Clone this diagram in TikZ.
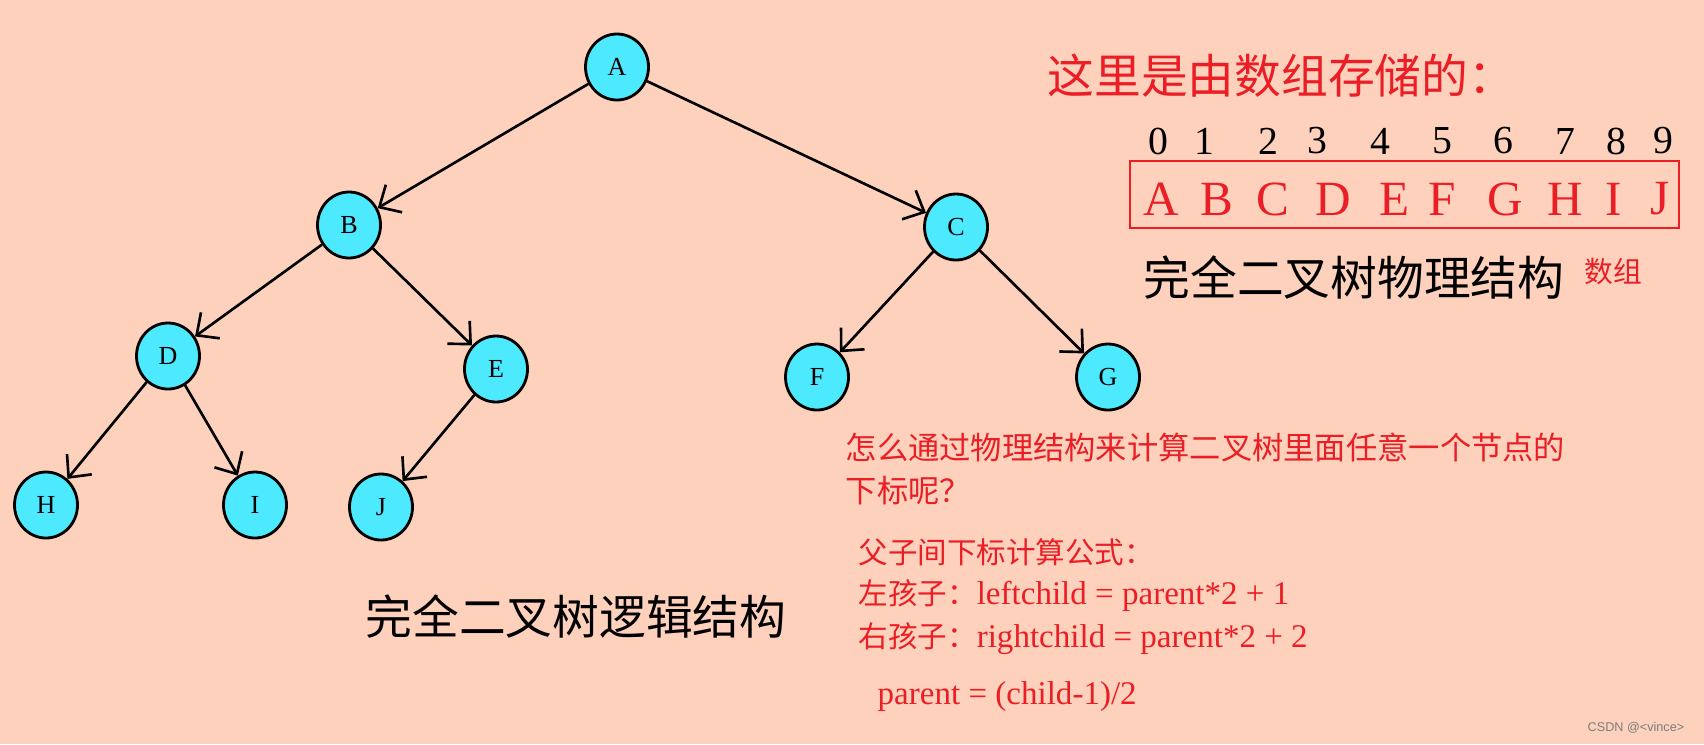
\documentclass[tikz,border=0pt]{standalone}
\usepackage{fontspec}
\setmainfont{Liberation Serif}
\newfontfamily\cjk{Noto Sans CJK SC}
\newfontfamily\wmfont{Liberation Sans}
\usetikzlibrary{arrows.meta,shapes.geometric}
\definecolor{BTpeach}{RGB}{254,209,189}
\definecolor{BTcyan}{RGB}{77,233,255}
\definecolor{BTred}{RGB}{234,30,36}
\definecolor{BTgray}{RGB}{125,125,125}
\tikzset{
  tnode/.style={ellipse,draw=black,line width=0.8pt,fill=BTcyan,inner sep=0pt,
                minimum width=0.63cm,minimum height=0.66cm,
                font=\fontsize{7.4pt}{8pt}\selectfont},
  tarrow/.style={-{Straight Barb[length=1.7mm,width=3.2mm]},line width=0.75pt,draw=black},
  bigtitle/.style={inner sep=0pt,font=\cjk\fontsize{13.3pt}{15pt}\selectfont},
  note/.style={inner sep=0pt,anchor=west,text=BTred,font=\fontsize{9.4pt}{11pt}\selectfont},
  idx/.style={inner sep=0pt,font=\fontsize{11.3pt}{13pt}\selectfont},
  cell/.style={inner sep=0pt,text=BTred,font=\fontsize{14pt}{16pt}\selectfont}
}
\begin{document}
\begin{tikzpicture}
  \fill[BTpeach] (0,0) rectangle (17.04,-7.44);
  \useasboundingbox (0,0) rectangle (17.04,-7.44);
  % logical structure
  \node[tnode] (A) at (6.17,-0.67) {A};
  \node[tnode] (B) at (3.49,-2.25) {B};
  \node[tnode] (C) at (9.56,-2.27) {C};
  \node[tnode] (D) at (1.68,-3.56) {D};
  \node[tnode] (E) at (4.96,-3.69) {E};
  \node[tnode] (F) at (8.17,-3.77) {F};
  \node[tnode] (G) at (11.08,-3.77) {G};
  \node[tnode] (H) at (0.46,-5.05) {H};
  \node[tnode] (I) at (2.55,-5.05) {I};
  \node[tnode] (J) at (3.81,-5.07) {J};
  \draw[tarrow] (A) -- (B);
  \draw[tarrow] (A) -- (C);
  \draw[tarrow] (B) -- (D);
  \draw[tarrow] (B) -- (E);
  \draw[tarrow] (C) -- (F);
  \draw[tarrow] (C) -- (G);
  \draw[tarrow] (D) -- (H);
  \draw[tarrow] (D) -- (I);
  \draw[tarrow] (E) -- (J);
  \node[bigtitle] (logic) at (5.76,-6.16) {完全二叉树逻辑结构};
  % physical structure
  \node[bigtitle,anchor=west,text=BTred] (store) at (10.47,-0.76) {这里是由数组存储的：};
  \foreach \x/\d in {11.58/0,12.04/1,12.68/2,13.17/3,13.80/4,14.42/5,15.03/6,15.65/7,16.16/8,16.63/9}
    \node[idx] (idx\d) at (\x,-1.41) {\d};
  \node[draw=BTred,line width=0.7pt,inner sep=0pt,minimum width=5.49cm,minimum height=0.67cm] (arr) at (14.045,-1.945) {};
  \foreach \x/\l in {11.61/A,12.17/B,12.73/C,13.33/D,13.94/E,14.42/F,15.05/G,15.65/H,16.14/I,16.60/J}
    \node[cell] (cell\l) at (\x,-1.99) {\l};
  \node[bigtitle,anchor=west] (phys) at (11.43,-2.77) {完全二叉树物理结构};
  \node[inner sep=0pt,anchor=west,text=BTred,font=\cjk\fontsize{8.2pt}{9pt}\selectfont] (arrname) at (15.84,-2.72) {数组};
  % formulas
  \node[note,font=\cjk\fontsize{8.9pt}{10pt}\selectfont] (q1) at (8.45,-4.47) {怎么通过物理结构来计算二叉树里面任意一个节点的};
  \node[note,font=\cjk\fontsize{8.9pt}{10pt}\selectfont] (q2) at (8.45,-4.91) {下标呢？};
  \node[note,font=\cjk\fontsize{8.4pt}{10pt}\selectfont] (f0) at (8.58,-5.52) {父子间下标计算公式：};
  \node[note] (f1) at (8.58,-5.96) {{\cjk\fontsize{8.4pt}{10pt}\selectfont 左孩子：}leftchild = parent*2 + 1};
  \node[note] (f2) at (8.58,-6.39) {{\cjk\fontsize{8.4pt}{10pt}\selectfont 右孩子：}rightchild = parent*2 + 2};
  \node[note] (f3) at (8.77,-6.97) {parent = (child-1)/2};
  \node[inner sep=0pt,anchor=west,text=BTgray,font=\wmfont\fontsize{3.6pt}{4pt}\selectfont] (wm) at (15.87,-7.28) {CSDN @<vince>};
\end{tikzpicture}
\end{document}
